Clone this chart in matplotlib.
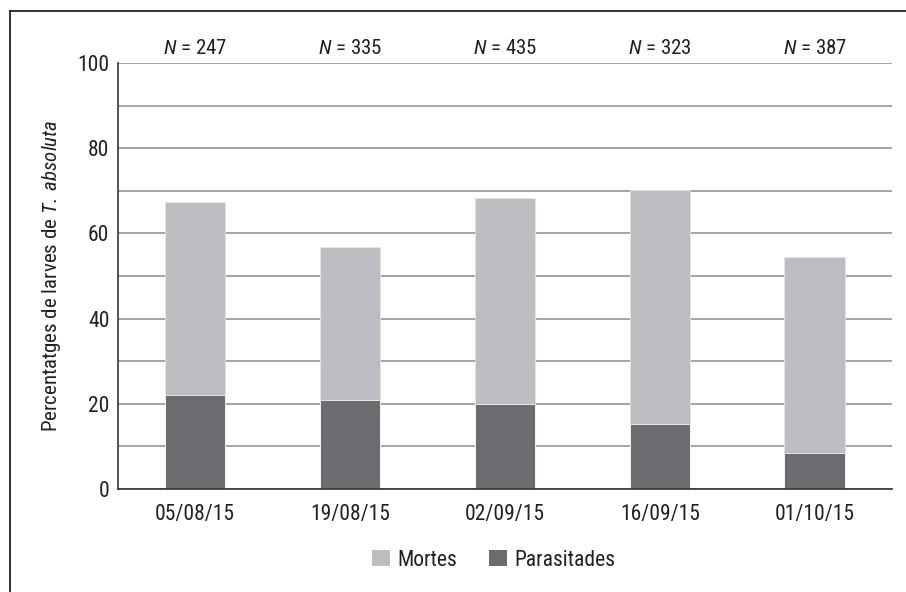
import matplotlib
matplotlib.use("Agg")
import matplotlib.pyplot as plt
from matplotlib.lines import Line2D
from matplotlib.patches import Patch
import numpy as np

dates = ["05/08/15", "19/08/15", "02/09/15", "16/09/15", "01/10/15"]
n_values = [247, 335, 435, 323, 387]
parasitades = [22.0, 20.8, 20.0, 15.3, 8.5]
total_mortes = [67.4, 56.9, 68.3, 70.3, 54.4]
mortes = [t - p for t, p in zip(total_mortes, parasitades)]

light = "#bcbdc0"
dark = "#6b6c70"
txt = "#231f20"

plt.rcParams['font.family'] = ['Roboto Condensed', 'Liberation Sans', 'DejaVu Sans']
plt.rcParams['mathtext.fontset'] = 'custom'
plt.rcParams['mathtext.rm'] = 'Roboto Condensed'
plt.rcParams['mathtext.it'] = 'Roboto Condensed:italic'

fig = plt.figure(figsize=(9.06, 5.92), dpi=100)
ax = fig.add_axes([0.130, 0.174, 0.8546, 0.7196])

x = np.arange(len(dates))
w = 0.39
ax.bar(x, parasitades, width=w, color=dark, edgecolor="white", linewidth=0.6, zorder=3)
ax.bar(x, mortes, width=w, bottom=parasitades, color=light, edgecolor="#e6e6e6", linewidth=0.6, zorder=3)

ax.set_xlim(-0.5, len(dates) - 0.5)
ax.set_ylim(0, 100)
ax.set_yticks(np.arange(0, 101, 20))
ax.set_yticks(np.arange(0, 101, 10), minor=True)
ax.yaxis.grid(True, which="both", color="#a3a3a3", linewidth=1.4, zorder=0)
ax.set_axisbelow(True)
ax.set_xticks(x)
ax.set_xticklabels(dates)
ax.tick_params(axis="both", which="both", length=0, labelsize=15.5, colors=txt)
ax.tick_params(axis="x", pad=11)
ax.tick_params(axis="y", pad=6)
for s in ["top", "right"]:
    ax.spines[s].set_visible(False)
for s in ["left", "bottom"]:
    ax.spines[s].set_color("#333333")
    ax.spines[s].set_linewidth(1.2)
    ax.spines[s].set_zorder(4)

ax.set_ylabel("Percentatges de larves de $\\mathit{T.}$ $\\mathit{absoluta}$", fontsize=15, color=txt, labelpad=10)

for xi, n in zip(x, n_values):
    ax.text(xi, 1.035, f"$\\mathit{{N}}$ = {n}", transform=ax.get_xaxis_transform(),
            ha="center", va="center", fontsize=15, color=txt)

handles = [Patch(facecolor=light, edgecolor="none", label="Mortes"),
           Patch(facecolor=dark, edgecolor="none", label="Parasitades")]
fig.legend(handles=handles, loc="center", bbox_to_anchor=(0.545, 0.054), ncol=2,
           frameon=False, fontsize=15.5, handlelength=0.8, handleheight=0.8,
           handletextpad=0.35, columnspacing=1.5, labelcolor=txt)

# figure frame (left and top edges)
fig.add_artist(Line2D([0.011, 0.011], [0.0, 0.981], transform=fig.transFigure, color="#222222", linewidth=1.3))
fig.add_artist(Line2D([0.011, 1.0], [0.981, 0.981], transform=fig.transFigure, color="#222222", linewidth=1.3))

fig.savefig("out.png", dpi=100)
